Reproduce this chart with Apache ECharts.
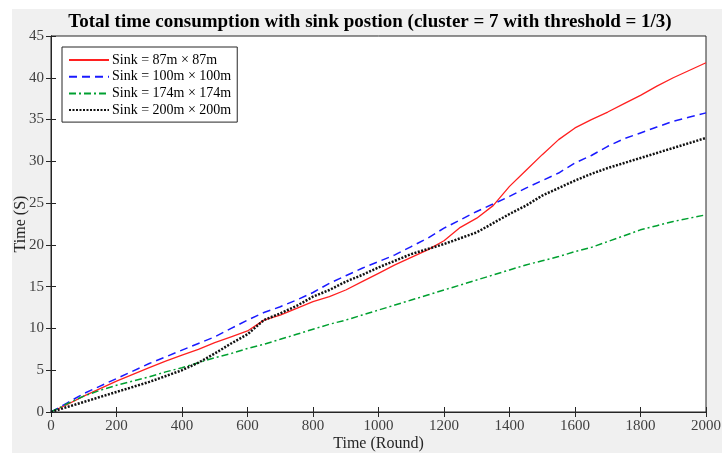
<!DOCTYPE html>
<html>
<head>
<meta charset="utf-8">
<script src="https://cdn.jsdelivr.net/npm/echarts@6/dist/echarts.min.js"></script>
<style>
  html, body { margin: 0; padding: 0; background: #ffffff; }
  #chart { width: 726px; height: 453px; }
</style>
</head>
<body>
<div id="chart"></div>
<script>
// Round numbers (x values) shared by every series
const rounds = [0, 50, 100, 150, 200, 250, 300, 350, 400, 450, 500, 550, 600, 650, 700, 750, 800, 850, 900, 950,
  1000, 1050, 1100, 1150, 1200, 1250, 1300, 1350, 1400, 1450, 1500, 1550, 1600, 1650, 1700, 1750, 1800, 1850, 1900, 1950, 2000];

// Cumulative time (s) for each sink position
const sink87 = [0, 0.9, 1.9, 2.8, 3.7, 4.5, 5.3, 6.1, 6.8, 7.5, 8.3, 9.0, 9.7, 11.0, 11.6, 12.4, 13.2, 13.8, 14.6, 15.6,
  16.6, 17.6, 18.5, 19.4, 20.5, 22.1, 23.2, 24.7, 27.0, 28.9, 30.8, 32.6, 34.0, 35.0, 35.9, 36.9, 37.9, 39.0, 40.0, 40.9, 41.8];
const sink100 = [0, 1.1, 2.2, 3.1, 4.0, 4.9, 5.8, 6.6, 7.4, 8.2, 9.0, 10.0, 11.0, 11.9, 12.6, 13.4, 14.3, 15.4, 16.3, 17.2,
  18.0, 18.8, 19.8, 20.8, 22.0, 23.0, 24.0, 24.9, 25.8, 26.8, 27.7, 28.6, 29.8, 30.7, 31.8, 32.7, 33.4, 34.1, 34.8, 35.3, 35.8];
const sink174 = [0, 1.0, 1.9, 2.6, 3.2, 3.7, 4.2, 4.8, 5.3, 5.9, 6.5, 7.0, 7.6, 8.1, 8.7, 9.3, 9.9, 10.5, 11.0, 11.6,
  12.2, 12.8, 13.4, 14.0, 14.6, 15.2, 15.8, 16.4, 17.0, 17.6, 18.1, 18.6, 19.2, 19.7, 20.4, 21.1, 21.8, 22.3, 22.8, 23.2, 23.6];
const sink200 = [0, 0.6, 1.2, 1.8, 2.4, 3.0, 3.6, 4.3, 5.0, 5.9, 7.0, 8.2, 9.3, 11.0, 11.8, 12.7, 13.8, 14.6, 15.6, 16.4,
  17.3, 18.1, 18.9, 19.5, 20.1, 20.8, 21.5, 22.6, 23.7, 24.7, 25.9, 26.8, 27.7, 28.5, 29.2, 29.8, 30.4, 31.0, 31.6, 32.2, 32.8];

const seriesNames = ['Sink = 87m \u00d7 87m', 'Sink = 100m \u00d7 100m', 'Sink = 174m \u00d7 174m', 'Sink = 200m \u00d7 200m'];

const serif = '"Liberation Serif", "DejaVu Serif", serif';
const inkColor = '#262626';

function pairs(values) {
  return rounds.map((r, i) => [r, values[i]]);
}

function lineSeries(name, values, color, type, width) {
  return {
    name: name,
    type: 'line',
    data: pairs(values),
    showSymbol: false,
    symbol: 'none',
    smooth: false,
    lineStyle: { color: color, width: width, type: type },
    itemStyle: { color: color },
    animation: false
  };
}

const chart = echarts.init(document.getElementById('chart'), null, { renderer: 'canvas' });

const frameAxisCommon = {
  type: 'value',
  min: 0,
  axisLine: { show: true, lineStyle: { color: inkColor, width: 1 } },
  axisTick: { show: true, inside: true, length: 5, lineStyle: { color: inkColor } },
  splitLine: { show: false }
};

const tickLabel = {
  fontFamily: serif,
  fontSize: 15,
  color: '#404040',
  formatter: (v) => String(v)
};

chart.setOption({
  animation: false,
  backgroundColor: '#ffffff',
  graphic: [{
    type: 'rect',
    z: -10,
    silent: true,
    shape: { x: 12, y: 9, width: 710, height: 444 },
    style: { fill: '#f0f0f0' }
  }],
  title: {
    text: 'Total time consumption with sink postion (cluster = 7 with threshold = 1/3)',
    left: 365,
    textAlign: 'center',
    top: 8,
    textStyle: { fontFamily: serif, fontWeight: 'bold', fontSize: 19, color: '#000000' }
  },
  legend: {
    orient: 'vertical',
    left: 62,
    top: 47,
    itemWidth: 40,
    itemHeight: 10,
    itemGap: 2.7,
    padding: [6, 6, 5, 6],
    backgroundColor: '#ffffff',
    borderColor: inkColor,
    borderWidth: 1,
    borderRadius: 0,
    itemStyle: { opacity: 0 },
    textStyle: { fontFamily: serif, fontSize: 14, color: '#000000', padding: [0, 0, 0, -2] },
    data: seriesNames
  },
  grid: {
    left: 51,
    right: 20,
    top: 36,
    bottom: 41,
    containLabel: false,
    outerBoundsMode: 'none',
    show: true,
    backgroundColor: '#ffffff',
    borderColor: inkColor,
    borderWidth: 1
  },
  xAxis: [
    Object.assign({}, frameAxisCommon, {
      max: 2000,
      interval: 200,
      position: 'bottom',
      name: 'Time (Round)',
      nameLocation: 'middle',
      nameGap: 24,
      nameMoveOverlap: false,
      nameTextStyle: { fontFamily: serif, fontSize: 16, color: inkColor },
      axisLabel: Object.assign({ margin: 7 }, tickLabel)
    }),
    Object.assign({}, frameAxisCommon, {
      max: 2000,
      interval: 200,
      position: 'top',
      axisLabel: { show: false }
    })
  ],
  yAxis: [
    Object.assign({}, frameAxisCommon, {
      max: 45,
      interval: 5,
      position: 'left',
      name: 'Time (S)',
      nameLocation: 'middle',
      nameGap: 22,
      nameMoveOverlap: false,
      nameTextStyle: { fontFamily: serif, fontSize: 16, color: inkColor },
      axisLabel: Object.assign({ margin: 7 }, tickLabel)
    }),
    Object.assign({}, frameAxisCommon, {
      max: 45,
      interval: 5,
      position: 'right',
      axisLabel: { show: false }
    })
  ],
  series: [
    lineSeries(seriesNames[0], sink87, '#ff2020', 'solid', 1.3),
    lineSeries(seriesNames[1], sink100, '#1a1aff', [8, 5], 1.5),
    lineSeries(seriesNames[2], sink174, '#00a030', [7, 3, 2, 3], 1.5),
    lineSeries(seriesNames[3], sink200, '#111111', [2, 1.5], 2.5)
  ]
});
</script>
</body>
</html>
